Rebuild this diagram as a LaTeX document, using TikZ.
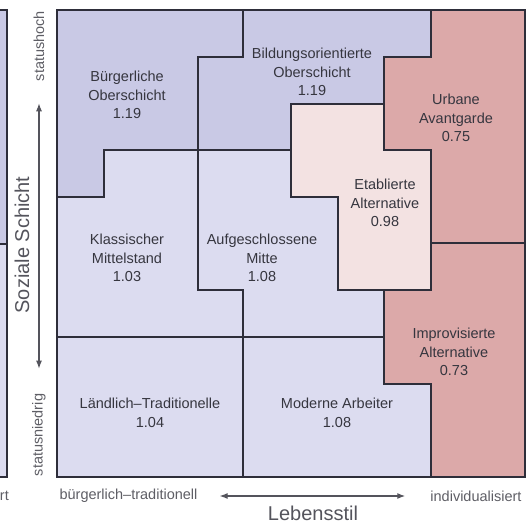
\documentclass[tikz,border=0pt]{standalone}
\usepackage{fontspec}
\setmainfont{Liberation Sans}
\usetikzlibrary{arrows.meta}
\definecolor{obenblau}{HTML}{C9C9E5}
\definecolor{mitteblau}{HTML}{DCDCF0}
\definecolor{hellrosa}{HTML}{F3E2E2}
\definecolor{rosa}{HTML}{DCA9A9}
\definecolor{linie}{HTML}{2E2E3A}
\definecolor{schrift}{HTML}{36363F}

\begin{document}
\begin{tikzpicture}[
    x=1pt, y=-1pt,
    % 区域样式
    region/.style={
        draw=linie,              % 边框颜色
        line width=1.3pt,        % 线宽
        line join=miter
    },
    % 外框样式
    frame/.style={draw=linie, line width=1.9pt},
    % 区域标签样式
    milieu label/.style={
        align=center,
        text=schrift,
        inner sep=0pt,
        font=\fontsize{14.5}{18.5}\selectfont
    },
    % 坐标轴文字样式
    axis text/.style={text=schrift!80, inner sep=0pt, font=\fontsize{14.5}{17}\selectfont},
    big text/.style={text=schrift!85, inner sep=0pt, font=\fontsize{20}{24}\selectfont},
    % 坐标轴箭头样式
    axis arrow/.style={
        draw=schrift!85,
        line width=1.2pt,
        {Latex[length=8pt,width=6pt]}-{Latex[length=8pt,width=6pt]}
    }
]
\useasboundingbox (0,0) rectangle (531,524);

% 左侧截断的图
\fill[obenblau] (0,10) rectangle (7,244);
\fill[mitteblau] (0,244) rectangle (7,477);
\draw[region] (0,10) -- (7,10) -- (7,477) -- (0,477);
\draw[region] (0,244) -- (7,244);
\node[axis text, anchor=east] (rest) at (9,496) {rt};

% 各个区域
% 上层
\draw[region, fill=obenblau] (57,10) -- (243,10) -- (243,57) -- (198,57) -- (198,150)
    -- (104,150) -- (104,197) -- (57,197) -- cycle;
\draw[region, fill=obenblau] (243,10) -- (431,10) -- (431,57) -- (384,57) -- (384,104)
    -- (291,104) -- (291,150) -- (198,150) -- (198,57) -- (243,57) -- cycle;
\draw[region, fill=rosa] (431,10) -- (525,10) -- (525,243) -- (431,243) -- (431,150)
    -- (384,150) -- (384,57) -- (431,57) -- cycle;
% 中层
\draw[region, fill=hellrosa] (291,104) -- (384,104) -- (384,150) -- (431,150) -- (431,290)
    -- (338,290) -- (338,197) -- (291,197) -- cycle;
\draw[region, fill=mitteblau] (57,197) -- (104,197) -- (104,150) -- (198,150) -- (198,290)
    -- (243,290) -- (243,337) -- (57,337) -- cycle;
\draw[region, fill=mitteblau] (198,150) -- (291,150) -- (291,197) -- (338,197) -- (338,290)
    -- (384,290) -- (384,337) -- (243,337) -- (243,290) -- (198,290) -- cycle;
\draw[region, fill=rosa] (431,243) -- (525,243) -- (525,477) -- (431,477) -- (431,384)
    -- (384,384) -- (384,290) -- (431,290) -- cycle;
% 下层
\draw[region, fill=mitteblau] (57,337) rectangle (243,477);
\draw[region, fill=mitteblau] (243,337) -- (384,337) -- (384,384) -- (431,384) -- (431,477)
    -- (243,477) -- cycle;
\draw[frame] (57,10) rectangle (525,477);

% 区域标签
\node[milieu label] (buerger) at (127,95) {Bürgerliche\\Oberschicht\\1.19};
\node[milieu label] (bildung) at (312,72) {Bildungsorientierte\\Oberschicht\\1.19};
\node[milieu label] (urban) at (456,118) {Urbane\\Avantgarde\\0.75};
\node[milieu label] (etabliert) at (385,203) {Etablierte\\Alternative\\0.98};
\node[milieu label] (klassisch) at (127,258) {Klassischer\\Mittelstand\\1.03};
\node[milieu label] (mitte) at (262,258) {Aufgeschlossene\\Mitte\\1.08};
\node[milieu label] (improv) at (454,352) {Improvisierte\\Alternative\\0.73};
\node[milieu label] (laendlich) at (150,413) {Ländlich–Traditionelle\\1.04};
\node[milieu label] (arbeiter) at (337,413) {Moderne Arbeiter\\1.08};

% 纵轴
\node[axis text, rotate=90] (hoch) at (39,46) {statushoch};
\node[axis text, rotate=90] (niedrig) at (39,435) {statusniedrig};
\node[big text, rotate=90] (schicht) at (22,245) {Soziale Schicht};
\draw[axis arrow, shorten <=22pt, shorten >=25pt] (hoch) -- (niedrig);

% 横轴
\node[axis text] (traditionell) at (128.5,496) {bürgerlich–traditionell};
\node[axis text] (individuell) at (476,496) {individualisiert};
\node[big text] (stil) at (313,513) {Lebensstil};
\draw[axis arrow, shorten <=22pt, shorten >=25pt] (traditionell) -- (individuell);

\end{tikzpicture}
\end{document}
